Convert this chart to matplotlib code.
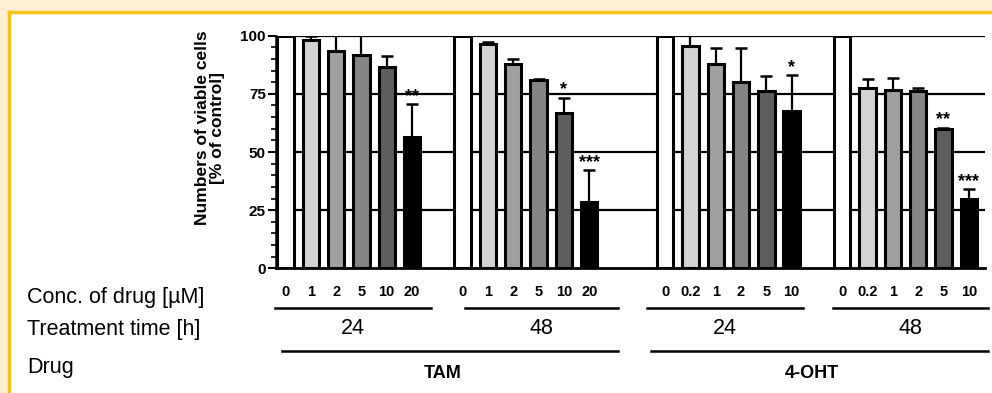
import numpy as np
import matplotlib
matplotlib.use("Agg")
import matplotlib.pyplot as plt
import matplotlib.transforms as mtransforms
from matplotlib.patches import Rectangle
from matplotlib.lines import Line2D

plt.rcParams['font.family'] = ['Liberation Sans', 'DejaVu Sans']

# data
conc_labels = [["0", "1", "2", "5", "10", "20"],
               ["0", "1", "2", "5", "10", "20"],
               ["0", "0.2", "1", "2", "5", "10"],
               ["0", "0.2", "1", "2", "5", "10"]]
times = ["24", "48", "24", "48"]
drugs = ["TAM", "4-OHT"]
viable = [[100, 98.3, 93.4, 91.8, 86.5, 56.5],
          [100, 96.6, 88.0, 80.8, 66.8, 28.6],
          [100, 95.4, 88.0, 80.1, 76.2, 67.5],
          [100, 77.5, 76.5, 76.2, 60.1, 29.7]]
err = [[0, 1.5, 8, 9, 4.6, 14.0],
       [0, 0.5, 1.8, 0.4, 6.4, 13.6],
       [0, 5, 6.8, 14.7, 6.3, 15.5],
       [0, 4.0, 5.5, 1.5, 0.4, 4.2]]
stars = [["", "", "", "", "", "**"],
         ["", "", "", "", "*", "***"],
         ["", "", "", "", "", "*"],
         ["", "", "", "", "**", "***"]]

bar_colors = ["white", "#d3d3d3", "#a0a0a0", "#858585", "#5e5e5e", "black"]
group_start = [0, 7, 15, 22]

W, H = 992, 393
fig = plt.figure(figsize=(W / 100, H / 100), dpi=100)
fig.patch.set_facecolor("#fbefd5")

def fx(x):
    return x / W

def fy(y):
    return 1 - y / H

# white panel with yellow frame on top/left
fig.patches.append(Rectangle((fx(9), 0), 1, fy(11.5), transform=fig.transFigure,
                             facecolor="white", edgecolor="none", zorder=-5))
fig.lines.append(Line2D([fx(9), fx(9)], [0, fy(11.5)], transform=fig.transFigure,
                        color="#f4c21c", lw=2.5, zorder=-4))
fig.lines.append(Line2D([fx(9), 1], [fy(11.5), fy(11.5)], transform=fig.transFigure,
                        color="#f4c21c", lw=2.5, zorder=-4))

ax = fig.add_axes([fx(275.5), fy(268.3), fx(985) - fx(275.5), fy(35.7) - fy(268.3)])
ax.set_facecolor("none")
x_left = -0.395
x_right = 27.64
ax.set_xlim(x_left, x_right)
ax.set_ylim(0, 100)

for yy in [25, 50, 75, 100]:
    ax.axhline(yy, color="black", lw=1.6, zorder=1)

for g in range(4):
    xs = group_start[g] + np.arange(6)
    ax.bar(xs, viable[g], width=0.65, color=bar_colors, edgecolor="black",
           linewidth=2.2, zorder=3)
    for i in range(1, 6):
        if err[g][i] > 0:
            ax.errorbar(xs[i], viable[g][i], yerr=[[0], [err[g][i]]], fmt="none",
                        ecolor="black", elinewidth=1.6, capsize=4, capthick=1.8,
                        zorder=2)
        if stars[g][i]:
            ax.text(xs[i], viable[g][i] + err[g][i] + 1.5, stars[g][i],
                    ha="center", va="baseline", fontsize=13, fontweight="bold")

for s in ["top", "right"]:
    ax.spines[s].set_visible(False)
ax.spines["left"].set_linewidth(1.8)
ax.spines["bottom"].set_linewidth(2.0)
ax.set_xticks([])
ax.set_yticks([0, 25, 50, 75, 100])
ax.set_yticks(np.arange(0, 101, 5), minor=True)
ax.tick_params(axis="y", which="major", direction="out", length=6, width=1.5,
               labelsize=11, pad=1)
ax.tick_params(axis="y", which="minor", direction="out", length=3.5, width=1.2)
for lbl in ax.get_yticklabels():
    lbl.set_fontweight("bold")

fig.text(fx(210), fy(128), "Numbers of viable cells\n[% of control]", rotation=90,
         ha="center", va="center", fontsize=12.5, fontweight="bold",
         linespacing=1.0)

# annotation rows under the axis
blend = mtransforms.blended_transform_factory(ax.transData, fig.transFigure)

def px2x(px):
    return x_left + (px - 275.5) / (985 - 275.5) * (x_right - x_left)

time_lines = [(275, 431), (465, 618), (647, 803), (833, 988)]
drug_lines = [(282, 618), (651, 988)]

for g in range(4):
    xs = group_start[g] + np.arange(6)
    for i in range(6):
        fig.text(xs[i], fy(292), conc_labels[g][i], transform=blend,
                 ha="center", va="center", fontsize=10.5, fontweight="bold")
    a, b = px2x(time_lines[g][0]), px2x(time_lines[g][1])
    fig.lines.append(Line2D([a, b], [fy(308), fy(308)], transform=blend,
                            color="black", lw=1.8))
    fig.text((a + b) / 2, fy(329), times[g], transform=blend,
             ha="center", va="center", fontsize=15.5)

for d in range(2):
    a, b = px2x(drug_lines[d][0]), px2x(drug_lines[d][1])
    fig.lines.append(Line2D([a, b], [fy(351), fy(351)], transform=blend,
                            color="black", lw=1.8))
    fig.text((a + b) / 2 - 0.3, fy(373), drugs[d], transform=blend,
             ha="center", va="center", fontsize=13, fontweight="bold")

fig.text(fx(27), fy(297), "Conc. of drug [µM]", ha="left", va="center", fontsize=15.5)
fig.text(fx(27), fy(329), "Treatment time [h]", ha="left", va="center", fontsize=15.5)
fig.text(fx(27), fy(367), "Drug", ha="left", va="center", fontsize=15.5)

fig.savefig("out.png", dpi=100, facecolor=fig.get_facecolor())
